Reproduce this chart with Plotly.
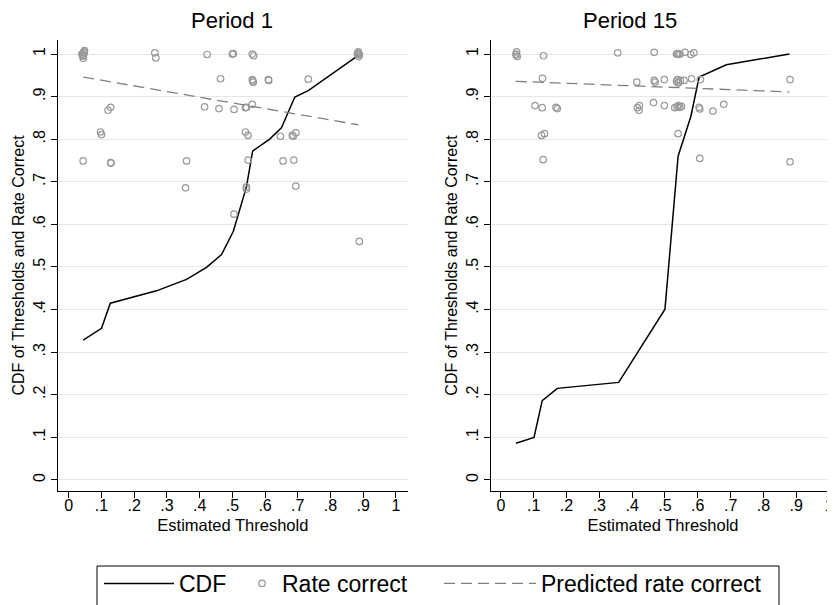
import plotly.graph_objects as go

# ---------------- data ----------------
tick_vals = [0, 0.1, 0.2, 0.3, 0.4, 0.5, 0.6, 0.7, 0.8, 0.9, 1.0]
tick_text = ["0", ".1", ".2", ".3", ".4", ".5", ".6", ".7", ".8", ".9", "1"]

# Period 1
p1_cdf_x = [0.044, 0.100, 0.127, 0.268, 0.360, 0.421, 0.467, 0.503, 0.543, 0.562, 0.615, 0.650, 0.691, 0.732, 0.885]
p1_cdf_y = [0.328, 0.356, 0.415, 0.444, 0.471, 0.499, 0.529, 0.584, 0.688, 0.772, 0.801, 0.827, 0.899, 0.914, 0.997]

p1_rate_x = [0.040, 0.043, 0.046, 0.044, 0.048, 0.042, 0.045, 0.047, 0.044,
             0.120, 0.128, 0.097, 0.100, 0.128, 0.129, 0.263, 0.266, 0.360, 0.357,
             0.423, 0.464, 0.415, 0.459, 0.505, 0.500, 0.503, 0.505, 0.540, 0.543,
             0.561, 0.540, 0.548, 0.548, 0.543, 0.543, 0.561, 0.565, 0.561, 0.564,
             0.562, 0.610, 0.611, 0.647, 0.683, 0.686, 0.694, 0.655, 0.688, 0.694,
             0.732, 0.882, 0.885, 0.888, 0.886, 0.884, 0.887, 0.888]
p1_rate_y = [1.000, 0.995, 1.005, 0.990, 1.008, 1.000, 0.997, 1.003, 0.749,
             0.868, 0.875, 0.817, 0.811, 0.745, 0.744, 1.003, 0.991, 0.749, 0.686,
             0.999, 0.942, 0.876, 0.872, 0.870, 1.000, 1.001, 0.624, 0.874, 0.875,
             0.882, 0.817, 0.809, 0.751, 0.688, 0.683, 1.000, 0.996, 0.940, 0.934,
             0.937, 0.940, 0.938, 0.807, 0.809, 0.807, 0.815, 0.749, 0.751, 0.690,
             0.941, 1.000, 1.005, 0.998, 0.994, 1.002, 1.000, 0.560]

p1_pred_x = [0.044, 0.885]
p1_pred_y = [0.946, 0.834]

# Period 15
p15_cdf_x = [0.046, 0.101, 0.126, 0.172, 0.359, 0.420, 0.500, 0.540, 0.579, 0.604, 0.687, 0.879]
p15_cdf_y = [0.086, 0.100, 0.186, 0.215, 0.229, 0.302, 0.401, 0.760, 0.854, 0.946, 0.975, 1.000]

p15_rate_x = [0.046, 0.048, 0.050, 0.047, 0.130, 0.127, 0.104, 0.126, 0.168, 0.172,
              0.124, 0.133, 0.129, 0.356, 0.414, 0.416, 0.422, 0.421, 0.465, 0.467,
              0.467, 0.470, 0.498, 0.498, 0.535, 0.538, 0.542, 0.546, 0.561, 0.579,
              0.588, 0.535, 0.538, 0.542, 0.547, 0.540, 0.558, 0.581, 0.608, 0.530,
              0.537, 0.541, 0.545, 0.550, 0.604, 0.606, 0.646, 0.679, 0.540, 0.606,
              0.881, 0.881]
p15_rate_y = [1.000, 1.005, 0.994, 0.998, 0.996, 0.943, 0.879, 0.874, 0.875, 0.872,
              0.809, 0.813, 0.752, 1.003, 0.934, 0.874, 0.879, 0.868, 0.886, 1.004,
              0.938, 0.934, 0.940, 0.879, 1.000, 1.001, 0.999, 1.000, 1.004, 0.999,
              1.003, 0.936, 0.940, 0.934, 0.938, 0.932, 0.938, 0.942, 0.940, 0.874,
              0.876, 0.879, 0.875, 0.877, 0.875, 0.871, 0.866, 0.882, 0.813, 0.755,
              0.940, 0.747]

p15_pred_x = [0.045, 0.879]
p15_pred_y = [0.936, 0.911]

# ---------------- styles ----------------
FONT = "Liberation Sans, Arial, Helvetica, sans-serif"
GRAY_PT = "#9a9a9a"
GRAY_DASH = "#808080"

# the page body adds an 8px offset; work in screen pixels and convert
OFF = 8
W, H = 835 - OFF, 605 - OFF
ML = 58 - OFF          # y-axis line at screen x=58
MT = 40 - OFF          # plot top at screen y=40
MB = H - (491 - OFF)   # x-axis line at screen y=491
MR = 0
PW, PH = W - ML - MR, H - MT - MB


def px_x(p):  # screen x -> paper
    return (p - OFF - ML) / PW


def px_y(p):  # screen y -> paper
    return 1 - (p - OFF - MT) / PH


def cx_(p):  # screen x -> container
    return (p - OFF) / W


def cy_(p):  # screen y -> container
    return 1 - (p - OFF) / H


x1_end = px_x(407.7)
x2_start = px_x(491)

fig = go.Figure()

panels = [
    (p1_cdf_x, p1_cdf_y, p1_rate_x, p1_rate_y, p1_pred_x, p1_pred_y, "x", "y", True),
    (p15_cdf_x, p15_cdf_y, p15_rate_x, p15_rate_y, p15_pred_x, p15_pred_y, "x2", "y2", False),
]
for cx, cy, rx, ry, px, py, xa, ya, show in panels:
    fig.add_trace(go.Scatter(x=cx, y=cy, mode="lines", name="CDF",
                             line=dict(color="black", width=1.5),
                             xaxis=xa, yaxis=ya, showlegend=show, legend="legend"))
    fig.add_trace(go.Scatter(x=rx, y=ry, mode="markers", name="Rate correct",
                             marker=dict(symbol="circle-open", size=6.5,
                                         color=GRAY_PT, line=dict(width=1.2, color=GRAY_PT)),
                             xaxis=xa, yaxis=ya, showlegend=show, legend="legend2"))
    fig.add_trace(go.Scatter(x=px, y=py, mode="lines", name="Predicted rate correct",
                             line=dict(color=GRAY_DASH, width=1.3, dash="11px,6px"),
                             xaxis=xa, yaxis=ya, showlegend=show, legend="legend3"))

xcommon = dict(tickvals=tick_vals, ticktext=tick_text, showgrid=False, zeroline=False,
               showline=True, linecolor="black", linewidth=1, ticks="outside",
               ticklen=6, tickcolor="black", tickwidth=1, automargin=False,
               ticklabelstandoff=-6, ticklabeloverflow="allow",
               tickfont=dict(family=FONT, size=16, color="black"),
               title=dict(text="Estimated Threshold", font=dict(family=FONT, size=16.5, color="black"),
                          standoff=6))
ycommon = dict(tickvals=tick_vals, ticktext=tick_text, showgrid=True, gridcolor="#e6e6e6",
               gridwidth=1, zeroline=False, showline=True, linecolor="black", linewidth=1,
               ticks="outside", ticklen=6, tickcolor="black", tickwidth=1, tickangle=-90,
               automargin=False,
               tickfont=dict(family=FONT, size=16, color="black"),
               range=[-0.026, 1.033],
               title=dict(text="CDF of Thresholds and Rate Correct",
                          font=dict(family=FONT, size=16, color="black"), standoff=1))

leg_common = dict(orientation="h", xref="container", yref="container", xanchor="left",
                  yanchor="top", borderwidth=0, bgcolor="rgba(0,0,0,0)",
                  font=dict(family=FONT, size=23, color="black"))
LEG_TOP = cy_(562)

fig.update_layout(
    width=W, height=H,
    margin=dict(l=ML, r=MR, t=MT, b=MB, autoexpand=False),
    paper_bgcolor="white", plot_bgcolor="white",
    font=dict(family=FONT, color="black"),
    xaxis=dict(domain=[0, x1_end], range=[-0.033, 1.036], anchor="y", **xcommon),
    yaxis=dict(domain=[0, 1], anchor="x", **ycommon),
    xaxis2=dict(domain=[x2_start, 1], range=[-0.030, 1.018], anchor="y2", **xcommon),
    yaxis2=dict(domain=[0, 1], anchor="x2", **ycommon),
    legend=dict(x=cx_(99), y=LEG_TOP, itemwidth=70, **leg_common),
    legend2=dict(x=cx_(242), y=LEG_TOP, itemwidth=30, **leg_common),
    legend3=dict(x=cx_(439), y=LEG_TOP, itemwidth=92, **leg_common),
    showlegend=True,
    shapes=[
        dict(type="rect", xref="paper", yref="paper",
             x0=px_x(97), x1=px_x(779), y0=px_y(612), y1=px_y(566),
             line=dict(color="black", width=1), fillcolor="rgba(0,0,0,0)", layer="above"),
    ],
    annotations=[
        dict(text="Period 1", x=px_x(232), y=1, xref="paper", yref="paper",
             xanchor="center", yanchor="bottom", yshift=5, showarrow=False,
             font=dict(family=FONT, size=22, color="black")),
        dict(text="Period 15", x=px_x(630), y=1, xref="paper", yref="paper",
             xanchor="center", yanchor="bottom", yshift=5, showarrow=False,
             font=dict(family=FONT, size=22, color="black")),
    ],
)

fig.write_html("out.html")
